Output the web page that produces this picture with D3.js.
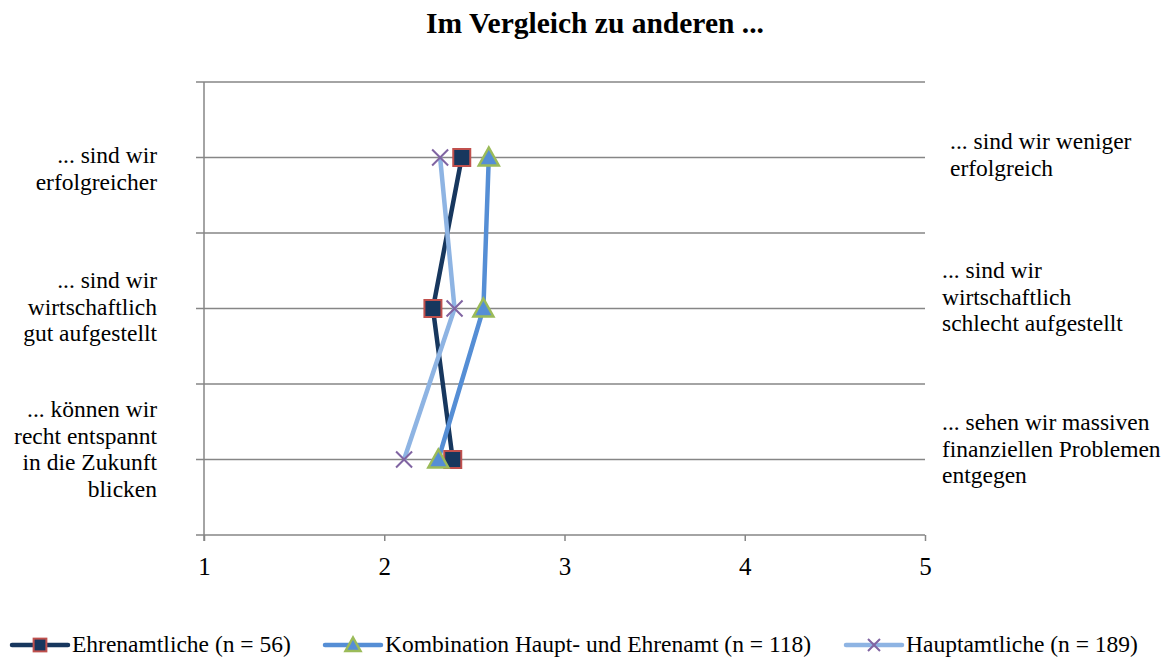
<!DOCTYPE html>
<html><head><meta charset="utf-8">
<script src="https://cdnjs.cloudflare.com/ajax/libs/d3/7.8.5/d3.min.js"></script>
<style>body{margin:0;background:#fff;} svg{display:block;}</style>
</head><body>
<svg id="c" width="1172" height="658"></svg>
<script>
const title = "Im Vergleich zu anderen ...";
const rows = ["erfolg", "wirtschaft", "zukunft"];
const leftLabels = [["... sind wir","erfolgreicher"],["... sind wir","wirtschaftlich","gut aufgestellt"],["... können wir","recht entspannt","in die Zukunft","blicken"]];
const rightLabels = [["... sind wir weniger","erfolgreich"],["... sind wir","wirtschaftlich","schlecht aufgestellt"],["... sehen wir massiven","finanziellen Problemen","entgegen"]];
const xTicks = [1,2,3,4,5];
const seriesNames = ["Ehrenamtliche (n = 56)","Kombination Haupt- und Ehrenamt (n = 118)","Hauptamtliche (n = 189)"];
const ehrenamt = [2.43, 2.27, 2.38];
const kombination = [2.58, 2.55, 2.30];
const hauptamt = [2.31, 2.39, 2.11];

const FONT = "'Liberation Serif', 'Times New Roman', Times, serif";
const svg = d3.select("#c");
const x = d3.scaleLinear().domain([1,5]).range([204,925]);
const y = d3.scaleLinear().domain([0,3]).range([535,82]);
const rowVal = [2.5,1.5,0.5];

function txt(sel){ return sel.style("font-family",FONT).attr("fill","#000"); }

txt(svg.append("text")).attr("x",595).attr("y",33).attr("text-anchor","middle")
  .style("font-size","29.5px").style("font-weight","bold").text(title);

// gridlines
const gy = d3.range(0,3.01,0.5);
svg.append("g").selectAll("line").data(gy.filter(d=>d>0)).join("line")
  .attr("x1",196).attr("x2",925).attr("y1",d=>y(d)).attr("y2",d=>y(d))
  .attr("stroke","#868686").attr("stroke-width",1.5);
// axes
const xa = svg.append("g").attr("transform","translate(0,535)")
  .call(d3.axisBottom(x).tickValues(xTicks).tickSize(6).tickPadding(16).tickFormat(d3.format("d")));
xa.attr("font-family",null).attr("font-size",null);
xa.select(".domain").attr("stroke","#868686").attr("stroke-width",1.5).attr("d","M196,0H925");
xa.selectAll(".tick line").attr("stroke","#868686").attr("stroke-width",1.5);
xa.selectAll(".tick text").style("font-size","25px").style("font-family",FONT).attr("fill","#000");
svg.append("line").attr("x1",x(1)).attr("x2",x(1)).attr("y1",82).attr("y2",541)
  .attr("stroke","#868686").attr("stroke-width",1.5);

// side labels
const lh = 26.5;
const leftY0 = [157,282,411];
leftLabels.forEach((ls,i)=>{
  const t = txt(svg.append("text")).attr("text-anchor","end").style("font-size","23.5px");
  ls.forEach((s,j)=>t.append("tspan").attr("x",157).attr("y",leftY0[i] + j*lh + 6).text(s));
});
const rightX = [950,942,942];
const rightY0 = [143,272,424];
rightLabels.forEach((ls,i)=>{
  const t = txt(svg.append("text")).attr("text-anchor","start").style("font-size","23.5px");
  ls.forEach((s,j)=>t.append("tspan").attr("x",rightX[i]).attr("y",rightY0[i] + j*lh + 6).text(s));
});

const series = [
  {vals:ehrenamt, color:"#17375E", marker:"square"},
  {vals:kombination, color:"#558ED5", marker:"triangle"},
  {vals:hauptamt, color:"#8EB4E3", marker:"x"}
];
const line = d3.line().x(d=>x(d[0])).y(d=>y(d[1]));
function drawMarker(g, type, cx, cy, s){
  s = s || 1;
  if(type==="square"){
    g.append("rect").attr("x",cx-8.5*s).attr("y",cy-8.5*s).attr("width",17*s).attr("height",17*s)
      .attr("fill","#17375E").attr("stroke","#C0504D").attr("stroke-width",2);
  } else if(type==="triangle"){
    g.append("path").attr("d",`M${cx},${cy-10*s}L${cx+10*s},${cy+8*s}L${cx-10*s},${cy+8*s}Z`)
      .attr("fill","#558ED5").attr("stroke","#9BBB59").attr("stroke-width",2.5);
  } else {
    g.append("path").attr("d",`M${cx-8*s},${cy-8*s}L${cx+8*s},${cy+8*s}M${cx-8*s},${cy+8*s}L${cx+8*s},${cy-8*s}`)
      .attr("stroke","#8064A2").attr("stroke-width",2).attr("fill","none");
  }
}
series.forEach((s,k)=>{
  const pts = s.vals.map((v,i)=>[v,rowVal[i]]);
  svg.append("path").attr("d",line(pts)).attr("fill","none").attr("stroke",s.color)
    .attr("stroke-width",4.5).attr("stroke-linejoin","round");
});
series.forEach(s=>{
  const g = svg.append("g");
  s.vals.forEach((v,i)=>drawMarker(g,s.marker,x(v),y(rowVal[i])));
});

// legend
const legX = [12,325,846];
series.forEach((s,k)=>{
  const g = svg.append("g");
  const lx = legX[k], ly = 645;
  g.append("line").attr("x1",lx).attr("x2",lx+56).attr("y1",ly).attr("y2",ly)
    .attr("stroke",s.color).attr("stroke-width",4.5).attr("stroke-linecap","round");
  drawMarker(g,s.marker,lx+28,ly,0.75);
  txt(g.append("text")).attr("x",lx+60).attr("y",ly+7).style("font-size","23.5px").text(seriesNames[k]);
});
</script>
</body></html>
